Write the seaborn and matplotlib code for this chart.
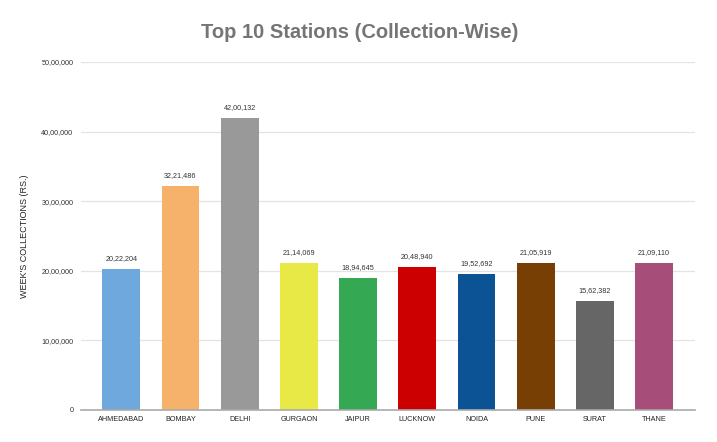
import matplotlib
matplotlib.use("Agg")
import matplotlib.pyplot as plt
import seaborn as sns
import pandas as pd

stations = ["AHMEDABAD", "BOMBAY", "DELHI", "GURGAON", "JAIPUR", "LUCKNOW",
            "NOIDA", "PUNE", "SURAT", "THANE"]
collections = [2022204, 3221486, 4200132, 2114069, 1894645, 2048940,
               1952692, 2105919, 1562382, 2109110]
value_labels = ["20,22,204", "32,21,486", "42,00,132", "21,14,069", "18,94,645",
                "20,48,940", "19,52,692", "21,05,919", "15,62,382", "21,09,110"]
colors = ["#6fa8dc", "#f6b26b", "#999999", "#e8e846", "#34a853",
          "#cc0000", "#0b5394", "#783f04", "#666666", "#a64d79"]
yticks = [0, 1000000, 2000000, 3000000, 4000000, 5000000]
ytick_labels = ["0", "10,00,000", "20,00,000", "30,00,000", "40,00,000", "50,00,000"]

sns.set_theme(style="white")
plt.rcParams["font.family"] = ["Liberation Sans", "DejaVu Sans"]

df = pd.DataFrame({"station": stations, "value": collections})

fig = plt.figure(figsize=(7.17, 4.42), dpi=100)
ax = fig.add_axes([81/717, 1 - 410/442, (695-81)/717, (410-62)/442])

sns.barplot(data=df, x="station", y="value", hue="station", palette=colors,
            legend=False, width=0.64, ax=ax, saturation=1, edgecolor="none", zorder=3)

ax.set_ylim(0, 5000000)
ax.set_xlim(-0.68, 9.69)
ax.set_yticks(yticks)
ax.set_yticklabels(ytick_labels, fontsize=5.2, color="#333333")
ax.tick_params(axis="x", labelsize=5.2, colors="#222222", length=0, pad=4)
ax.tick_params(axis="y", length=0, pad=5.5)
ax.grid(axis="y", color="#e3e3e3", linewidth=0.9, zorder=0)
for s in ["top", "right", "left"]:
    ax.spines[s].set_visible(False)
ax.spines["bottom"].set_color("#aaaaaa")
ax.spines["bottom"].set_linewidth(1.2)
ax.spines["bottom"].set_zorder(4)

for i, (v, lab) in enumerate(zip(collections, value_labels)):
    ax.annotate(lab, (i, v), xytext=(0, 5), textcoords="offset points",
                ha="center", va="bottom", fontsize=5.2, color="#333333")

ax.set_xlabel("")
ax.set_ylabel("WEEK'S COLLECTIONS (RS.)", fontsize=6.5, color="#222222", labelpad=9)

fig.text(360/717, 1 - 33/442, "Top 10 Stations (Collection-Wise)", ha="center",
         va="center", fontsize=14.5, fontweight="bold", color="#757575")

fig.savefig("out.png", dpi=100, facecolor="white")
